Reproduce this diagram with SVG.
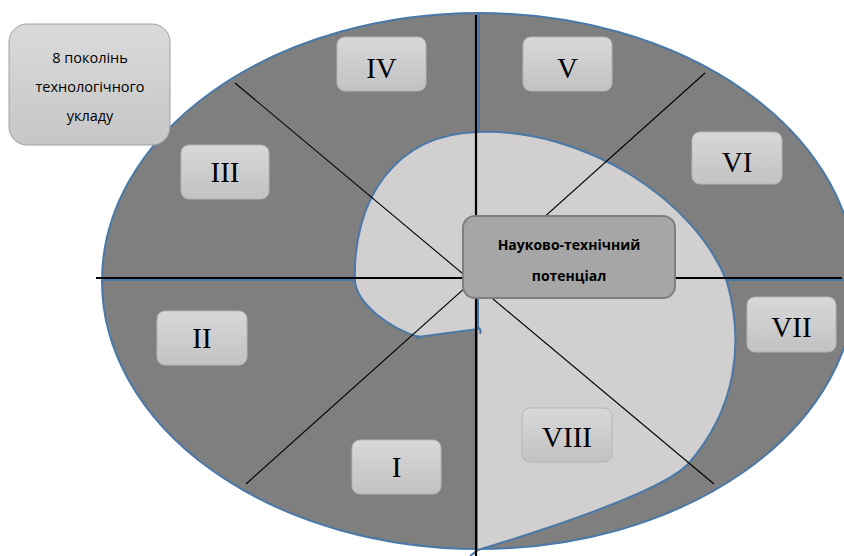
<svg xmlns="http://www.w3.org/2000/svg" width="844" height="556" viewBox="0 0 844 556">
  <defs>
    <linearGradient id="boxGrad" x1="0" y1="0" x2="0" y2="1">
      <stop offset="0" stop-color="#d8d8d8"/>
      <stop offset="1" stop-color="#c2c2c2"/>
    </linearGradient>
    <linearGradient id="legendGrad" x1="0" y1="0" x2="0" y2="1">
      <stop offset="0" stop-color="#dadada"/>
      <stop offset="1" stop-color="#c6c6c6"/>
    </linearGradient>
  </defs>
  <style>
    .ring { fill: #7f7f7f; stroke: #4a78a8; stroke-width: 2; }
    .core { fill: #d1cfd0; stroke: none; }
    .blue { fill: none; stroke: #4a78a8; stroke-width: 2; }
    .axis { stroke: #000; stroke-width: 2.2; }
    .diag { stroke: #000; stroke-width: 1.1; }
    .gen rect { fill: url(#boxGrad); stroke: #b5b5b5; stroke-width: 1; }
    .gen text { font-family: "Liberation Serif", "Times New Roman", serif; font-size: 29px; fill: #000; text-anchor: middle; }
    .legend rect { fill: url(#legendGrad); stroke: #a0a0a0; stroke-width: 1; }
    .legend text { font-family: "Open Sans", "Liberation Sans", sans-serif; font-size: 14.5px; fill: #000; text-anchor: middle; }
    .center rect { fill: #a6a6a6; stroke: #7f7f7f; stroke-width: 2; }
    .center text { font-family: "Open Sans", "Liberation Sans", sans-serif; font-size: 14px; font-weight: bold; fill: #000; text-anchor: middle; }
  </style>

  <g id="background">
    <ellipse class="ring" cx="479" cy="281" rx="377" ry="268"/>
    <line class="blue" x1="479" y1="14" x2="479" y2="132"/>
    <line class="blue" x1="103" y1="280" x2="856" y2="280"/>
    <path class="core" d="M478,132 C585,128 695,200 727,282 C745,345 735,410 689,463 C665,490 560,525 478,550 L478,330 L418,337 C390,328 358,305 355,282 C352,200 395,134 478,132 Z"/>
    <path class="blue" d="M478,132 C585,128 695,200 727,282 C745,345 735,410 689,463 C665,490 560,525 478,550 L470,556"/>
    <path class="blue" d="M478,298 L478,329 L418,337 C390,328 358,305 355,282 C352,200 395,134 478,132"/>
    <path class="blue" d="M477,327 q5,2 3,7"/>
    <circle cx="418" cy="337" r="2" fill="#4a78a8"/>
  </g>

  <g id="connectors">
    <line class="diag" x1="235" y1="83" x2="714" y2="484"/>
    <line class="diag" x1="705" y1="73" x2="246" y2="484"/>
    <line class="axis" x1="96" y1="278" x2="842" y2="278"/>
    <line class="axis" x1="476" y1="15" x2="476" y2="556"/>
  </g>

  <g id="legend" class="legend">
    <rect x="9" y="24" width="161" height="121" rx="18" ry="18"/>
    <text x="90" y="63">8 поколінь</text>
    <text x="90" y="92">технологічного</text>
    <text x="90" y="121">укладу</text>
  </g>

  <g id="gen-I" class="gen"><rect x="352" y="440" width="89" height="54" rx="8"/><text x="396.5" y="477">I</text></g>
  <g id="gen-II" class="gen"><rect x="157" y="311" width="90" height="54" rx="8"/><text x="202" y="348">II</text></g>
  <g id="gen-III" class="gen"><rect x="181" y="145" width="88" height="54" rx="8"/><text x="225" y="182">III</text></g>
  <g id="gen-IV" class="gen"><rect x="337" y="37" width="89" height="54" rx="8"/><text x="381.5" y="78">IV</text></g>
  <g id="gen-V" class="gen"><rect x="523" y="37" width="89" height="54" rx="8"/><text x="567.5" y="78">V</text></g>
  <g id="gen-VI" class="gen"><rect x="692" y="132" width="90" height="52" rx="8"/><text x="737" y="172">VI</text></g>
  <g id="gen-VII" class="gen"><rect x="747" y="297" width="89" height="55" rx="8"/><text x="791.5" y="337">VII</text></g>
  <g id="gen-VIII" class="gen"><rect x="522" y="408" width="90" height="54" rx="8"/><text x="567" y="447">VIII</text></g>

  <g id="center" class="center">
    <rect x="463" y="216" width="212" height="82" rx="12" ry="12"/>
    <text x="569" y="250">Науково-технічний</text>
    <text x="569" y="281">потенціал</text>
  </g>
</svg>
